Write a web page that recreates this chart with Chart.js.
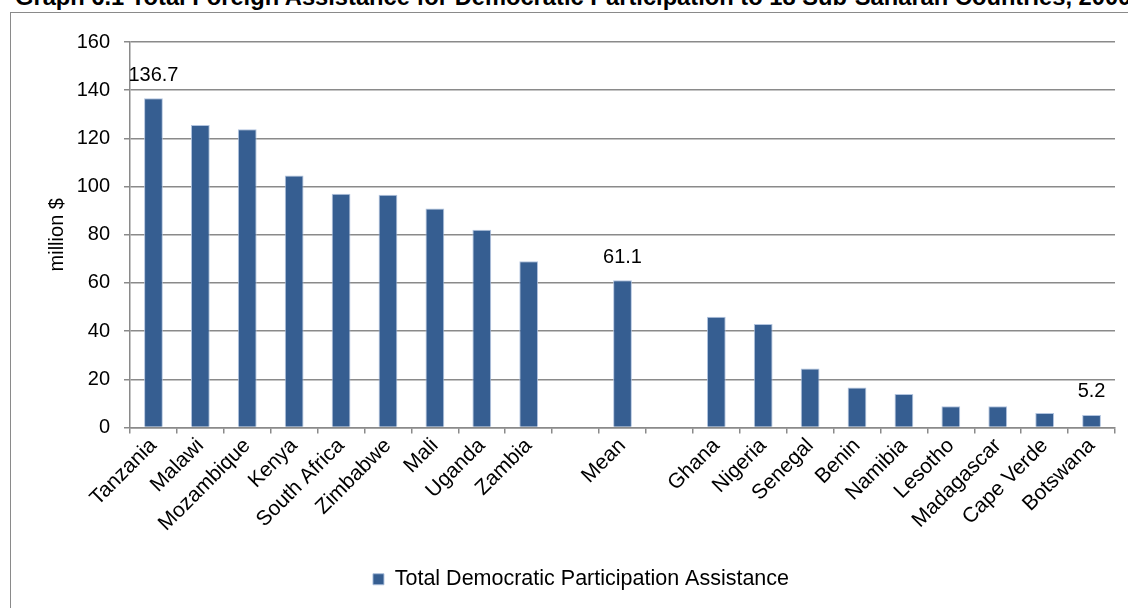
<!DOCTYPE html>
<html>
<head>
<meta charset="utf-8">
<script src="https://cdn.jsdelivr.net/npm/chart.js@4.4.1/dist/chart.umd.min.js"></script>
<style>
  html, body { margin: 0; padding: 0; background: #fff; overflow: hidden; }
  #wrap { position: relative; width: 1128px; height: 608px; overflow: hidden; }
  #frame { position: absolute; left: 10px; top: 12px; width: 1300px; height: 800px;
           border: 1.5px solid #8a8a8a; box-sizing: border-box; }
  #title { position: absolute; left: 15px; top: -14px; white-space: nowrap;
           font: bold 23.7px/23.7px "Liberation Sans", Arial, sans-serif; color: #000; }
  #chart { position: absolute; left: 0; top: 0; }
</style>
</head>
<body>
<div id="wrap">
  <div id="frame"></div>
  <div id="title">Graph 6.1 Total Foreign Assistance for Democratic Participation to 18 Sub-Saharan Countries, 2000–2006</div>
  <canvas id="chart" width="1128" height="608"></canvas>
</div>
<script>
// Categories in display order; blank slots set the Mean bar apart.
const categories = ['Tanzania', 'Malawi', 'Mozambique', 'Kenya', 'South Africa', 'Zimbabwe',
  'Mali', 'Uganda', 'Zambia', '', 'Mean', '', 'Ghana', 'Nigeria', 'Senegal', 'Benin',
  'Namibia', 'Lesotho', 'Madagascar', 'Cape Verde', 'Botswana'];

// Total democratic participation assistance, million $
const values = [136.7, 125.6, 123.8, 104.6, 97.0, 96.6, 90.9, 82.1, 69.0, null, 61.1, null,
  46.0, 43.0, 24.5, 16.6, 13.9, 8.8, 8.8, 6.0, 5.2];

// Bars that carry a value label
const labelledCategories = ['Tanzania', 'Mean', 'Botswana'];

const yTicks = [0, 20, 40, 60, 80, 100, 120, 140, 160];

const seriesName = 'Total Democratic Participation Assistance';
const axisTitle = 'million $';

const FONT = '"Liberation Sans", Arial, sans-serif';
const BAR = '#365E91';
const GRID = '#8a8a8a';

Chart.defaults.font.family = FONT;
Chart.defaults.color = '#000';

const valueLabels = {
  id: 'valueLabels',
  afterDatasetsDraw(chart) {
    const meta = chart.getDatasetMeta(0);
    const ctx = chart.ctx;
    ctx.save();
    ctx.font = '20px ' + FONT;
    ctx.fillStyle = '#000';
    ctx.textAlign = 'center';
    ctx.textBaseline = 'middle';
    labelledCategories.forEach(name => {
      const i = categories.indexOf(name);
      const bar = meta.data[i];
      ctx.fillText(values[i].toFixed(1), bar.x, bar.y - 23);
    });
    ctx.restore();
  }
};

new Chart(document.getElementById('chart'), {
  type: 'bar',
  data: {
    labels: categories,
    datasets: [{
      label: seriesName,
      data: values,
      backgroundColor: BAR,
      borderColor: 'rgba(170,190,220,0.9)',
      borderWidth: 1,
      barPercentage: 0.4,
      categoryPercentage: 1.0
    }]
  },
  options: {
    responsive: false,
    animation: false,
    devicePixelRatio: 1,
    layout: { padding: { left: 47, right: 13, top: 42, bottom: 8 } },
    plugins: {
      legend: {
        position: 'bottom',
        labels: {
          boxWidth: 11,
          boxHeight: 11,
          padding: 10,
          color: '#000',
          font: { size: 21.5 }
        }
      },
      tooltip: { enabled: false },
      title: { display: false }
    },
    scales: {
      x: {
        afterFit(scale) { scale.height = 131; },
        grid: {
          display: true,
          drawOnChartArea: false,
          drawTicks: true,
          tickLength: 6,
          color: GRID,
          lineWidth: 1.5,
          offset: true
        },
        border: { display: true, color: GRID, width: 1.5 },
        ticks: {
          autoSkip: false,
          maxRotation: 45,
          minRotation: 45,
          padding: 0,
          color: '#000',
          font: { size: 21 }
        }
      },
      y: {
        min: 0,
        max: 160,
        afterFit(scale) { scale.width = 83; },
        afterBuildTicks(scale) { scale.ticks = yTicks.map(v => ({ value: v })); },
        grid: {
          color: GRID,
          lineWidth: 1.5,
          drawTicks: true,
          tickLength: 6
        },
        border: { display: true, color: GRID, width: 1.5 },
        ticks: {
          padding: 14,
          color: '#000',
          font: { size: 20 }
        },
        title: {
          display: true,
          text: axisTitle,
          color: '#000',
          font: { size: 20, lineHeight: 1 },
          padding: 0
        }
      }
    }
  },
  plugins: [valueLabels]
});
</script>
</body>
</html>
